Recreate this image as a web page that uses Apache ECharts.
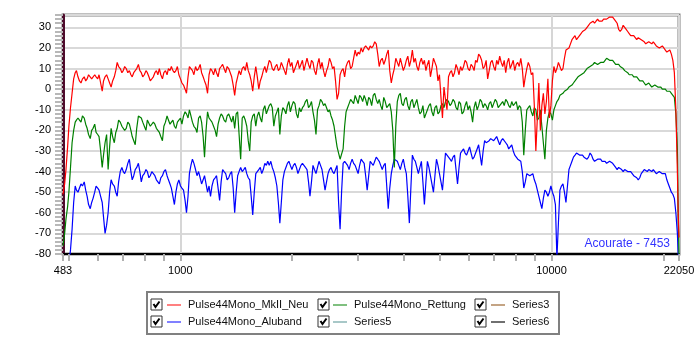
<!DOCTYPE html>
<html>
<head>
<meta charset="utf-8">
<script src="https://cdn.jsdelivr.net/npm/echarts@6/dist/echarts.min.js"></script>
<style>
  html, body { margin: 0; padding: 0; background: #ffffff; }
  #chart { width: 700px; height: 350px; }
</style>
</head>
<body>
<div id="chart"></div>
<script>
// Frequency points (Hz) on the main grid, shared by all measured curves
const freqs = [483,492,501,511,521,530,540,551,561,572,
  582,593,604,616,627,639,651,664,676,689,
  702,715,729,742,756,771,785,800,815,830,
  846,862,878,895,912,929,946,964,982,1001,
  1020,1039,1058,1078,1099,1120,1141,1162,1184,1206,
  1229,1252,1276,1300,1325,1350,1375,1401,1427,1454,
  1482,1510,1538,1567,1597,1627,1657,1689,1720,1753,
  1786,1820,1854,1889,1925,1961,1998,2036,2074,2113,
  2153,2194,2235,2277,2320,2364,2408,2454,2500,2547,
  2595,2644,2694,2745,2796,2849,2903,2958,3013,3070,
  3128,3187,3247,3309,3371,3434,3499,3565,3632,3701,
  3771,3842,3914,3988,4063,4140,4218,4297,4378,4461,
  4545,4631,4718,4807,4898,4990,5084,5180,5278,5377,
  5479,5582,5687,5795,5904,6015,6129,6244,6362,6482,
  6604,6729,6856,6985,7116,7251,7387,7527,7668,7813,
  7961,8111,8264,8419,8578,8740,8905,9073,9244,9418,
  9596,9777,9961,10149,10340,10535,10734,10936,11142,11352,
  11567,11785,12007,12233,12464,12699,12938,13182,13431,13684,
  13942,14205,14473,14746,15024,15307,15596,15890,16189,16494,
  16806,17123,17446,17774,18109,18451,18799,19153,19514,19882,
  20258,20640,21029,21425,21829,22050];

// In-between frequency points (Hz)
const freqsMid = [488,497,506,516,525,535,545,556,566,577,
  588,599,610,621,633,645,657,670,682,696,
  708,722,736,749,763,778,792,808,823,838,
  854,870,886,903,921,938,955,973,991,1010,
  1030,1049,1068,1088,1109,1131,1152,1173,1195,1217,
  1241,1264,1288,1312,1337,1363,1388,1414,1440,1468,
  1496,1524,1552,1582,1612,1642,1673,1705,1736,1769,
  1803,1837,1871,1907,1943,1979,2017,2055,2093,2133,
  2173,2215,2256,2298,2342,2386,2431,2477,2523,2571,
  2619,2669,2719,2771,2822,2876,2930,2986,3041,3099,
  3157,3217,3277,3340,3403,3466,3532,3598,3666,3736,
  3806,3878,3951,4025,4101,4179,4258,4337,4419,4503,
  4588,4674,4762,4852,4944,5037,5132,5229,5327,5427,
  5530,5634,5740,5849,5959,6071,6186,6303,6422,6543,
  6666,6792,6920,7051,7183,7319,7456,7598,7740,7886,
  8036,8187,8342,8498,8658,8822,8988,9158,9331,9506,
  9686,9869,10054,10244,10437,10634,10835,11039,11247,11458,
  11675,11896,12120,12348,12581,12818,13059,13306,13557,13812,
  14073,14338,14609,14884,15165,15451,15742,16039,16341,16649,
  16964,17284,17610,17941,18279,18624,18975,19333,19697,20068,
  20448,20834,21226,21626,21940];

// Pulse44Mono_MkII_Neu level (dB)
const mkIINeu = [-51,-39,-18,-2,8,6,3,6,5,7,
  5,6,7,-1,6,5,1,6,13,10,
  9,10,9,6,9,12,8,7,8,4,
  6,9,10,5,9,10,11,8,11,5,
  2,-2,11,9,11,10,8,4,-2,10,
  7,8,10,12,8,10,6,-3,6,7,
  11,13,7,-1,11,0,6,11,11,13,
  9,12,10,11,7,15,13,10,14,12,
  9,15,10,13,7,15,13,6,11,13,
  11,-5,7,10,11,14,11,19,18,20,
  20,20,21,21,22,11,15,14,19,3,
  10,13,15,9,14,11,19,15,9,15,
  14,12,6,15,11,7,-14,-5,6,9,
  8,10,11,11,13,9,11,14,17,14,
  11,5,13,11,14,16,11,8,15,12,
  9,13,15,1,10,11,8,-30,3,-8,
  -12,5,-8,11,10,11,10,19,20,24,
  26,25,27,28,30,32,33,33,33,33,
  34,34,35,34,32,28,31,29,27,26,
  25,25,24,23,22,23,23,21,20,21,
  19,18,17,8,-40,-72];
const mkIINeuMid = [-46,-28,-9,5,9,4,5,4,7,5,
  7,5,3,4,7,3,4,9,11,8,
  11,8,7,8,10,9,6,9,6,5,
  8,7,7,8,7,9,9,9,7,3,
  0,6,10,7,9,12,6,2,7,9,
  10,6,11,10,11,8,2,3,9,10,
  9,9,4,6,6,4,9,8,14,10,
  11,9,13,9,12,11,8,12,10,14,
  12,12,14,9,12,10,9,9,15,10,
  4,-2,9,6,13,10,15,16,17,18,
  21,19,20,23,17,14,12,17,9,7,
  15,11,12,11,16,14,13,11,13,12,
  9,14,10,13,4,-4,1,-10,8,6,
  12,7,9,14,10,12,9,13,16,10,
  14,9,14,9,12,13,14,13,10,14,
  12,11,10,6,13,7,-8,-14,-20,-2,
  -6,-14,4,8,13,9,15,19,22,25,
  24,26,28,29,31,32,32,34,33,34,
  34,35,35,33,29,29,30,28,26,26,
  24,25,24,22,23,22,22,21,20,20,
  18,19,14,-10,-60];

// Pulse44Mono_Rettung level (dB)
const rettung = [-76,-63,-50,-26,-16,-14,-16,-14,-19,-24,
  -19,-21,-23,-38,-26,-39,-19,-26,-19,-16,
  -18,-19,-17,-23,-27,-13,-14,-18,-15,-18,
  -16,-19,-21,-25,-16,-15,-16,-18,-16,-14,
  -13,-12,-10,-16,-19,-14,-16,-33,-11,-14,
  -18,-23,-14,-13,-16,-12,-16,-19,-11,-34,
  -13,-18,-30,-13,-18,-11,-16,-8,-10,-7,
  -18,-11,-22,-9,-12,-6,-8,-7,-14,-11,
  -8,-5,-8,-11,-22,-8,-6,-7,-11,-13,
  -18,-28,-34,-29,-11,-7,-5,-3,-7,-4,
  -3,-8,-5,-3,-5,-5,-10,-6,-8,-11,
  -38,-6,-2,-8,-4,-10,-5,-7,-9,-11,
  -14,-10,-7,-13,-8,-11,-7,-6,-6,-7,
  -6,-10,-7,-11,-6,-8,-16,-6,-8,-6,
  -7,-10,-6,-7,-6,-8,-6,-5,-8,-6,
  -7,-10,-9,-32,-10,-8,-13,-10,-14,-18,
  -34,-14,-12,-10,-6,-3,-2,-1,1,2,
  4,6,7,8,10,11,12,13,12,13,
  14,15,14,13,12,11,10,9,7,7,
  6,5,4,3,2,2,1,2,1,0,
  0,-1,-2,-4,-29,-80];
const rettungMid = [-70,-57,-38,-20,-15,-15,-13,-17,-22,-20,
  -17,-22,-30,-32,-22,-28,-23,-21,-15,-18,
  -20,-16,-20,-25,-19,-13,-16,-20,-15,-18,
  -17,-20,-23,-18,-13,-17,-15,-19,-15,-17,
  -11,-14,-13,-18,-21,-13,-23,-20,-14,-16,
  -20,-17,-12,-15,-13,-14,-13,-12,-22,-14,
  -15,-25,-16,-12,-13,-14,-10,-12,-8,-9,
  -13,-9,-13,-10,-8,-11,-6,-12,-9,-9,
  -6,-9,-6,-15,-10,-5,-8,-9,-10,-15,
  -23,-31,-34,-18,-9,-5,-7,-5,-3,-6,
  -5,-4,-8,-2,-7,-8,-4,-9,-7,-20,
  -18,-3,-7,-5,-8,-6,-9,-5,-12,-8,
  -12,-8,-11,-9,-12,-8,-9,-5,-8,-5,
  -9,-6,-12,-8,-10,-11,-9,-10,-5,-9,
  -8,-7,-9,-5,-9,-7,-8,-6,-9,-8,
  -6,-8,-16,-20,-9,-11,-9,-15,-10,-26,
  -20,-11,-15,-8,-5,-3,-1,0,1,3,
  5,6,7,9,10,11,13,12,13,13,
  15,14,14,12,12,11,9,8,7,6,
  6,4,4,2,3,1,2,1,1,0,
  -1,-1,-3,-12,-60];

// Pulse44Mono_Aluband level (dB)
const aluband = [-95,-90,-85,-68,-47,-50,-46,-45,-52,-58,
  -53,-47,-49,-55,-70,-60,-44,-47,-52,-40,
  -40,-39,-34,-44,-39,-36,-45,-41,-40,-42,
  -40,-44,-46,-42,-39,-44,-48,-56,-46,-47,
  -49,-60,-41,-34,-39,-40,-46,-42,-50,-52,
  -44,-42,-54,-39,-41,-43,-40,-60,-42,-38,
  -39,-41,-44,-61,-41,-39,-41,-36,-35,-35,
  -40,-47,-65,-44,-38,-35,-39,-36,-41,-37,
  -36,-39,-52,-37,-41,-35,-39,-49,-41,-38,
  -41,-37,-68,-36,-35,-39,-34,-37,-41,-34,
  -36,-49,-35,-37,-33,-35,-39,-36,-58,-41,
  -34,-35,-39,-34,-41,-65,-32,-35,-41,-35,
  -56,-35,-42,-50,-34,-41,-49,-31,-33,-35,
  -32,-46,-31,-29,-32,-28,-34,-31,-27,-37,
  -25,-26,-24,-25,-23,-27,-24,-26,-29,-27,
  -32,-34,-35,-48,-41,-42,-41,-46,-52,-58,
  -49,-52,-47,-52,-82,-49,-46,-55,-39,-35,
  -32,-31,-32,-33,-34,-31,-34,-35,-34,-35,
  -35,-36,-35,-37,-39,-38,-40,-39,-40,-41,
  -42,-44,-41,-39,-40,-39,-39,-41,-40,-41,
  -41,-46,-50,-53,-70,-90];
const alubandMid = [-92,-88,-78,-55,-49,-48,-47,-49,-56,-55,
  -50,-48,-52,-62,-66,-50,-46,-50,-45,-38,
  -41,-36,-40,-42,-38,-40,-42,-39,-43,-40,
  -42,-45,-43,-40,-42,-46,-52,-50,-44,-48,
  -54,-52,-37,-36,-42,-43,-44,-46,-47,-47,
  -43,-48,-45,-40,-44,-41,-48,-50,-40,-40,
  -38,-43,-52,-50,-40,-38,-39,-37,-37,-38,
  -43,-55,-55,-40,-36,-37,-37,-38,-39,-36,
  -38,-45,-45,-39,-38,-37,-44,-45,-39,-40,
  -39,-55,-50,-35,-37,-36,-36,-39,-37,-35,
  -42,-42,-36,-35,-34,-37,-37,-47,-48,-37,
  -34,-37,-36,-38,-52,-48,-34,-38,-38,-45,
  -45,-38,-46,-42,-37,-45,-40,-32,-34,-33,
  -39,-38,-30,-31,-30,-31,-33,-29,-32,-30,
  -26,-25,-24,-24,-25,-25,-25,-27,-28,-30,
  -33,-34,-40,-45,-41,-42,-44,-49,-55,-53,
  -50,-50,-50,-56,-65,-47,-50,-47,-37,-33,
  -31,-32,-32,-33,-33,-32,-35,-34,-34,-35,
  -36,-35,-36,-38,-38,-39,-39,-40,-40,-42,
  -43,-43,-40,-39,-39,-40,-40,-41,-40,-41,
  -44,-48,-51,-60,-80];

const xLabelValues = [483, 1000, 10000, 22050];
const xTickValues = [483, 500, 600, 700, 800, 900, 1000, 2000, 3000, 4000, 5000, 6000,
  7000, 8000, 9000, 10000, 20000, 22050];
const noteText = 'Acourate - 7453';

const FONT = '"Liberation Sans", Arial, sans-serif';

// Merge main and in-between points into one frequency-ordered list
function curve(main, mid) {
  const pts = freqs.map((f, i) => [f, main[i]]).concat(freqsMid.map((f, i) => [f, mid[i]]));
  return pts.sort((a, b) => a[0] - b[0]);
}

const chart = echarts.init(document.getElementById('chart'), null, { renderer: 'canvas' });

function lineSeries(name, color, data) {
  return {
    name: name,
    type: 'line',
    xAxisIndex: 0,
    data: data,
    showSymbol: false,
    symbol: 'none',
    clip: true,
    lineStyle: { color: color, width: 1.2 },
    itemStyle: { color: color },
    emphasis: { disabled: true }
  };
}

function legendColumn(left, names, colors) {
  return {
    orient: 'vertical',
    left: left,
    top: 298,
    padding: 0,
    itemGap: 3,
    itemWidth: 14,
    itemHeight: 2,
    icon: 'rect',
    selectedMode: false,
    textStyle: { fontFamily: FONT, fontSize: 11, color: '#111111', lineHeight: 14, padding: [0, 0, 0, 2] },
    data: names.map((n, i) => ({ name: n, itemStyle: { color: colors[i] } }))
  };
}

// Checkbox glyphs drawn in front of each legend entry
function checkbox(x, y) {
  return [
    { type: 'rect', shape: { x: x, y: y, width: 11, height: 11 },
      style: { fill: '#ffffff', stroke: '#333333', lineWidth: 1 }, z: 10 },
    { type: 'polyline', shape: { points: [[x + 2.5, y + 5], [x + 4.5, y + 8], [x + 8.5, y + 2.5]] },
      style: { stroke: '#000000', lineWidth: 2, fill: null }, z: 11 }
  ];
}

const graphics = [
  { type: 'rect', shape: { x: 147, y: 292, width: 412, height: 42 },
    style: { fill: '#ffffff', stroke: '#808080', lineWidth: 2 }, z: 0 },
  { type: 'text', right: 30, top: 238,
    style: { text: noteText, fill: '#3333ff', font: '12px ' + FONT }, z: 20 }
];
[[151, 299], [318, 299], [475, 299], [151, 316], [318, 316], [475, 316]].forEach(p => {
  checkbox(p[0], p[1]).forEach(g => graphics.push(g));
});

const logAxisBase = {
  type: 'log',
  logBase: 10,
  min: 483,
  max: 22050,
  position: 'bottom',
  minorTick: { show: false },
  minorSplitLine: { show: false }
};

chart.setOption({
  animation: false,
  backgroundColor: '#ffffff',
  grid: {
    left: 63, right: 21, top: 15, bottom: 96,
    show: true, borderColor: '#808080', borderWidth: 3, backgroundColor: 'transparent'
  },
  xAxis: [
    Object.assign({}, logAxisBase, {
      axisLine: { show: true, onZero: false, lineStyle: { color: '#000000', width: 2 } },
      axisTick: { show: true, length: 7, customValues: xLabelValues,
        lineStyle: { color: '#b0b0b0', width: 2 } },
      axisLabel: { customValues: xLabelValues, margin: 11, fontFamily: FONT, fontSize: 11, color: '#000000',
        formatter: v => String(Math.round(v)) },
      splitLine: { show: true, lineStyle: { color: '#d6d6d6', width: 2 } }
    }),
    // Secondary ticks at every 100 / 1000 / 10000 step
    Object.assign({}, logAxisBase, {
      axisLine: { show: false, onZero: false },
      axisTick: { show: true, length: 7, customValues: xTickValues,
        lineStyle: { color: '#b0b0b0', width: 2 } },
      axisLabel: { show: false },
      splitLine: { show: false }
    })
  ],
  yAxis: {
    type: 'value',
    min: -80,
    max: 36,
    interval: 10,
    axisLine: { show: true, onZero: false, lineStyle: { color: '#4e0c2c', width: 3 } },
    axisTick: { show: true, length: 8, lineStyle: { color: '#b8b8b8', width: 2 } },
    minorTick: { show: true, splitNumber: 5, length: 8, lineStyle: { color: '#b8b8b8', width: 2 } },
    axisLabel: { margin: 12, fontFamily: FONT, fontSize: 11, color: '#000000', showMaxLabel: false },
    splitLine: { show: true, lineStyle: { color: '#d9d9d9', width: 2 } }
  },
  legend: [
    legendColumn(167, ['Pulse44Mono_MkII_Neu', 'Pulse44Mono_Aluband'], ['#ff8080', '#8080ff']),
    legendColumn(333, ['Pulse44Mono_Rettung', 'Series5'], ['#80c080', '#a8c8c8']),
    legendColumn(491, ['Series3', 'Series6'], ['#c4a484', '#707070'])
  ],
  graphic: graphics,
  series: [
    lineSeries('Series3', '#8b5a2b', []),
    lineSeries('Series5', '#5f9ea0', []),
    lineSeries('Series6', '#404040', []),
    lineSeries('Pulse44Mono_Aluband', '#0000ff', curve(aluband, alubandMid)),
    lineSeries('Pulse44Mono_Rettung', '#008000', curve(rettung, rettungMid)),
    lineSeries('Pulse44Mono_MkII_Neu', '#ff0000', curve(mkIINeu, mkIINeuMid))
  ]
});
</script>
</body>
</html>
